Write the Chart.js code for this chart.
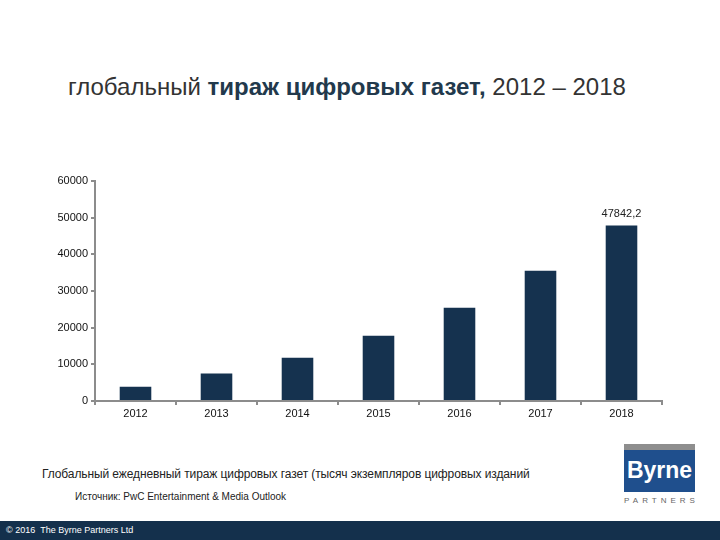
<!DOCTYPE html>
<html>
<head>
<meta charset="utf-8">
<script src="https://cdn.jsdelivr.net/npm/chart.js@4.4.1/dist/chart.umd.min.js"></script>
<style>
  body { margin: 0; background: #fff; font-family: "Liberation Sans", Arial, sans-serif; }
  #page { position: relative; width: 720px; height: 540px; overflow: hidden; }
  #titulo { position: absolute; left: 68px; top: 73px; font-size: 24px; color: #333; white-space: nowrap; }
  #titulo b { color: #22394c; }
  #grafico_box { position: absolute; left: 0; top: 160px; width: 720px; height: 270px; }
  #legenda { position: absolute; left: 42px; top: 467px; font-size: 12px; color: #222; white-space: nowrap; letter-spacing: -0.1px; }
  #fonte { position: absolute; left: 75px; top: 491px; font-size: 10px; color: #222; white-space: nowrap; }
  #logo_cinza { position: absolute; left: 624px; top: 444px; width: 71px; height: 6px; background: #8e8e8e; }
  #logo_azul { position: absolute; left: 624px; top: 450px; width: 71px; height: 42px; background: #1f4f8d; color: #fff; font-size: 23px; font-weight: bold; text-align: center; line-height: 40px; }
  #logo_txt { position: absolute; left: 624px; top: 496px; width: 75px; text-align: center; font-size: 8px; letter-spacing: 4px; color: #666; }
  #rodape { position: absolute; left: 0; top: 521px; width: 720px; height: 19px; background: #14304c; color: #fff; font-size: 9px; line-height: 19px; padding-left: 6px; box-sizing: border-box; }
</style>
</head>
<body>
<div id="page">
  <div id="titulo">глобальный <b>тираж цифровых газет,</b> 2012 – 2018</div>
  <div id="grafico_box"><canvas id="tiragem"></canvas></div>
  <div id="legenda">Глобальный ежедневный тираж цифровых газет (тысяч экземпляров цифровых изданий</div>
  <div id="fonte">Источник: PwC Entertainment &amp; Media Outlook</div>
  <div id="logo_cinza"></div>
  <div id="logo_azul">Byrne</div>
  <div id="logo_txt">PARTNERS</div>
  <div id="rodape">© 2016 &nbsp;The Byrne Partners Ltd</div>
</div>
<script>
var anos = ['2012', '2013', '2014', '2015', '2016', '2017', '2018'];
var tiragem = [3900, 7500, 11800, 17800, 25400, 35500, 47842.2];
var rotulos = ['', '', '', '', '', '', '47842,2'];

var fonteEixo = { family: '"Liberation Sans Narrow", "Liberation Sans", sans-serif', size: 11 };

var rotuloBarra = {
    id: 'rotuloBarra',
    afterDatasetsDraw(chart) {
        var ctx = chart.ctx;
        var meta = chart.getDatasetMeta(0);
        ctx.save();
        ctx.font = '11px "Liberation Sans Narrow", "Liberation Sans", sans-serif';
        ctx.fillStyle = '#222';
        ctx.textAlign = 'center';
        ctx.textBaseline = 'bottom';
        meta.data.forEach((barra, i) => {
            if (rotulos[i]) {
                ctx.fillText(rotulos[i], barra.x, barra.y - 6);
            }
        });
        ctx.restore();
    }
};

var grafico = new Chart(document.getElementById('tiragem').getContext('2d'), {
    type: 'bar',
    data: {
        labels: anos,
        datasets: [{
            data: tiragem,
            backgroundColor: '#15324f',
            barPercentage: 0.78,
            categoryPercentage: 0.5
        }]
    },
    options: {
        responsive: true,
        maintainAspectRatio: false,
        animation: false,
        layout: { padding: { left: 0, top: 21, right: 58, bottom: 0 } },
        plugins: {
            legend: { display: false },
            tooltip: { enabled: false }
        },
        scales: {
            x: {
                grid: { display: true, drawOnChartArea: false, tickLength: 4, color: '#8c8c8c', lineWidth: 2 },
                border: { color: '#8c8c8c', width: 2 },
                ticks: { color: '#111', font: fonteEixo, padding: 2 },
                afterFit(scale) { scale.height = 29; }
            },
            y: {
                min: 0,
                max: 60000,
                grid: { display: true, drawOnChartArea: false, tickLength: 4, color: '#8c8c8c', lineWidth: 2 },
                border: { color: '#8c8c8c', width: 2 },
                ticks: {
                    stepSize: 10000, color: '#111', font: fonteEixo, padding: 3,
                    callback: (valor) => String(valor)
                },
                afterFit(scale) { scale.width = 95; }
            }
        }
    },
    plugins: [rotuloBarra]
});
</script>
</body>
</html>
